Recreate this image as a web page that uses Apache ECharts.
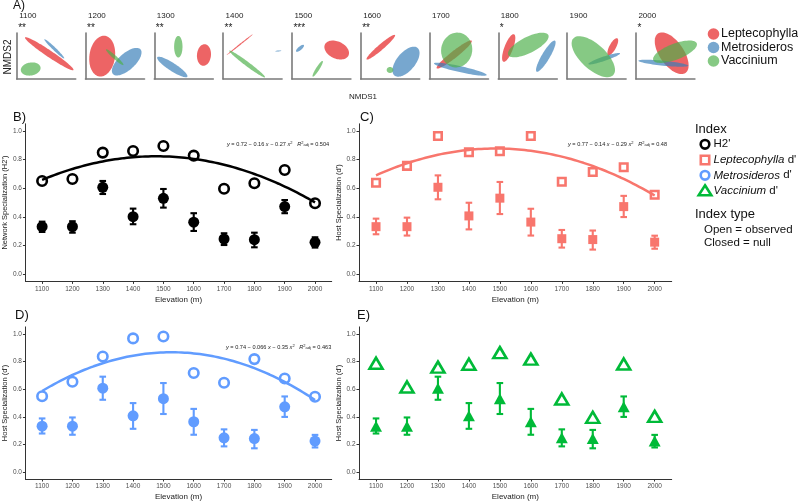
<!DOCTYPE html>
<html><head><meta charset="utf-8">
<script src="https://cdn.jsdelivr.net/npm/echarts@6/dist/echarts.min.js"></script>
<style>html,body{margin:0;padding:0;background:#fff}#c{width:798px;height:502px}</style>
</head><body><div id="c"></div><script>
// ---------- data ----------
const elevations = [1100,1200,1300,1400,1500,1600,1700,1800,1900,2000];
const xTicks = [1100,1200,1300,1400,1500,1600,1700,1800,1900,2000];
const yTicks = [0,0.2,0.4,0.6,0.8,1.0];
const h2Observed   = [0.651,0.665,0.849,0.860,0.895,0.828,0.597,0.635,0.728,0.495];
const h2NullMean   = [0.332,0.332,0.607,0.402,0.530,0.363,0.246,0.241,0.472,0.223];
const h2NullLow    = [0.295,0.290,0.560,0.349,0.465,0.302,0.204,0.188,0.426,0.186];
const h2NullHigh   = [0.367,0.370,0.651,0.458,0.595,0.426,0.286,0.290,0.518,0.258];
const leptoObserved = [0.639,0.756,0.965,0.851,0.858,0.965,0.646,0.714,0.747,0.555];
const metroObserved = [0.548,0.653,0.836,0.967,0.981,0.717,0.646,0.817,0.677,0.545];
const vaccObserved  = [0.787,0.615,0.759,0.780,0.864,0.817,0.529,0.396,0.782,0.403];
const dNullMean = [0.332,0.332,0.607,0.407,0.531,0.364,0.248,0.242,0.472,0.224];
const dNullLow  = [0.279,0.270,0.523,0.313,0.420,0.270,0.186,0.172,0.399,0.178];
const dNullHigh = [0.388,0.395,0.690,0.499,0.644,0.457,0.309,0.305,0.547,0.269];
const equationsText = [
  ['0.72 − 0.16', '0.27', '0.504'],
  ['0.77 − 0.14', '0.29', '0.48'],
  ['0.74 − 0.066', '0.35', '0.463']
];
// NMDS panel A
const nmdsYears = ['1100','1200','1300','1400','1500','1600','1700','1800','1900','2000'];
const nmdsSig   = ['**','**','**','**','***','**','','*','','*'];
const speciesNames = ['Leptecophylla','Metrosideros','Vaccinium'];
// ellipse rows: [centre x, centre y, semi-major, semi-minor, angle deg]
const ellLepto = [
  [0.707,0.550,0.635,0.072,-34],
  [0.363,0.496,0.446,0.278,82],
  [1.080,0.522,0.235,0.152,85],
  [0.361,0.746,0.361,0.013,38.5],
  [0.974,0.630,0.283,0.185,-25],
  [0.437,0.691,0.407,0.061,40.6],
  [0.537,0.533,0.485,0.076,38.3],
  [0.226,0.674,0.320,0.093,69],
  [0.993,0.702,0.207,0.072,61.6],
  [0.778,0.559,0.522,0.261,-55]
];
const ellMetro = [
  [0.817,0.657,0.300,0.033,-44],
  [0.896,0.376,0.402,0.180,42],
  [0.391,0.261,0.389,0.087,-33],
  [1.200,0.609,0.065,0.011,5],
  [0.176,0.667,0.109,0.039,40],
  [0.985,0.376,0.391,0.200,50],
  [0.670,0.213,0.587,0.065,-12.5],
  [1.033,0.496,0.391,0.087,59.4],
  [0.807,0.441,0.363,0.048,18.7],
  [0.596,0.343,0.543,0.054,-5.7]
];
const ellVacc = [
  [0.304,0.217,0.217,0.141,10],
  [0.635,0.474,0.254,0.039,-42],
  [0.522,0.702,0.235,0.091,90],
  [0.524,0.326,0.485,0.048,-36.7],
  [0.561,0.222,0.202,0.037,57.5],
  [0.637,0.196,0.072,0.065,0],
  [0.591,0.630,0.380,0.337,80],
  [0.652,0.739,0.487,0.174,26.6],
  [0.570,0.485,0.589,0.272,-42.5],
  [0.850,0.593,0.507,0.174,21]
];

// ---------- styles / layout ----------
const FONT = '"Liberation Sans", Arial, sans-serif';
const C_H2 = '#000000', C_LEP = '#F8766D', C_MET = '#619CFF', C_VAC = '#00BA38';
const ellColors = ['rgba(228,26,28,0.68)','rgba(55,126,184,0.68)','rgba(77,175,74,0.68)'];
const nmdsLeft0 = 16.7, nmdsStep = 68.8, nmdsTop = 33, nmdsW = 59, nmdsH = 46;
const panels = [
  {left:20.7, top:123.8, width:311, height:157.6},
  {left:359, top:123.8, width:312.7, height:157.6},
  {left:20.7, top:326.9, width:311, height:156.5},
  {left:359, top:326.9, width:312.7, height:156.5}
];

function quadFit(xs, ys){
  const n = xs.length, mx = xs.reduce((a,b)=>a+b,0)/n;
  const t = xs.map(x => (x-mx)/100);
  let S=[0,0,0,0,0], T=[0,0,0];
  for(let i=0;i<n;i++){
    for(let k=0;k<5;k++) S[k]+=Math.pow(t[i],k);
    for(let k=0;k<3;k++) T[k]+=Math.pow(t[i],k)*ys[i];
  }
  const M=[[S[0],S[1],S[2],T[0]],[S[1],S[2],S[3],T[1]],[S[2],S[3],S[4],T[2]]];
  for(let i=0;i<3;i++){
    for(let j=i+1;j<3;j++){const f=M[j][i]/M[i][i];for(let k=i;k<4;k++)M[j][k]-=f*M[i][k];}
  }
  const c=[0,0,0];
  for(let i=2;i>=0;i--){let s=M[i][3];for(let k=i+1;k<3;k++)s-=M[i][k]*c[k];c[i]=s/M[i][i];}
  return x => { const u=(x-mx)/100; return c[0]+c[1]*u+c[2]*u*u; };
}
function fitLine(ys){
  const f = quadFit(elevations, ys), out=[];
  for(let x=elevations[0]; x<=elevations[elevations.length-1]; x+=10) out.push([x, f(x)]);
  return out;
}

const grid=[], xAxis=[], yAxis=[], series=[], graphic=[];
// NMDS small grids
for(let i=0;i<10;i++){
  const L = nmdsLeft0 + i*nmdsStep;
  grid.push({left:L, top:nmdsTop, width:nmdsW, height:nmdsH});
  const ax = {lineStyle:{color:'#7a7a7a', width:1.6}, onZero:false};
  xAxis.push({gridIndex:i, type:'value', min:0, max:nmdsW/nmdsH, axisLine:ax, axisTick:{show:false}, axisLabel:{show:false}, splitLine:{show:false}});
  yAxis.push({gridIndex:i, type:'value', min:0, max:1, axisLine:ax, axisTick:{show:false}, axisLabel:{show:false}, splitLine:{show:false}});
  const data = [ellLepto[i].concat(0), ellMetro[i].concat(1), ellVacc[i].concat(2)];
  series.push({type:'custom', xAxisIndex:i, yAxisIndex:i, data, encode:{x:0,y:1}, silent:true,
    renderItem:(params, api)=>{
      const c = api.coord([api.value(0), api.value(1)]);
      const s = api.size([1,1]);
      const a = api.value(2)*s[0], b = api.value(3)*s[1], th = api.value(4)*Math.PI/180;
      const pts=[];
      for(let k=0;k<72;k++){const tt=2*Math.PI*k/72, ex=a*Math.cos(tt), ey=b*Math.sin(tt);
        pts.push([c[0]+ex*Math.cos(th)-ey*Math.sin(th), c[1]-(ex*Math.sin(th)+ey*Math.cos(th))]);}
      return {type:'polygon', shape:{points:pts}, style:{fill:ellColors[api.value(5)]}};
    }});
  graphic.push({type:'text', left:L+2.5, top:12, style:{text:nmdsYears[i], font:'8px '+FONT, fill:'#222'}});
  if(nmdsSig[i]) graphic.push({type:'text', left:L+1.5, top:23.5, style:{text:nmdsSig[i], font:'10px '+FONT, fill:'#222'}});
}

// main panels
const panelDefs = [
  {obs:h2Observed, mean:h2NullMean, low:h2NullLow, high:h2NullHigh, color:C_H2, sym:'circle', size:11, osym:'circle', osize:9.5, fit:true, yname:"Network Specialization (H2')"},
  {obs:leptoObserved, mean:dNullMean, low:dNullLow, high:dNullHigh, color:C_LEP, sym:'rect', size:9, osym:'rect', osize:7.5, fit:true, yname:"Host Specialization (d')"},
  {obs:metroObserved, mean:dNullMean, low:dNullLow, high:dNullHigh, color:C_MET, sym:'circle', size:11, osym:'circle', osize:9.5, fit:true, yname:"Host Specialization (d')"},
  {obs:vaccObserved, mean:dNullMean, low:dNullLow, high:dNullHigh, color:C_VAC, sym:'triangle', size:[12,11], osym:'triangle', osize:[13,11], fit:false, yname:"Host Specialization (d')"}
];
panelDefs.forEach((p, j)=>{
  const gi = 10 + j;
  grid.push(panels[j]);
  xAxis.push({gridIndex:gi, type:'value', min:1045, max:2055, name:'Elevation (m)', nameLocation:'middle', nameGap:14,
    nameTextStyle:{fontFamily:FONT, fontSize:8, color:'#1a1a1a'},
    axisLine:{onZero:false, lineStyle:{color:'#333', width:1}},
    axisTick:{customValues:xTicks, length:2.5, lineStyle:{color:'#333'}},
    axisLabel:{customValues:xTicks, formatter:v=>String(v), fontFamily:FONT, fontSize:6.5, color:'#4d4d4d', margin:4},
    splitLine:{show:false}});
  yAxis.push({gridIndex:gi, type:'value', min:-0.05, max:1.05, name:p.yname, nameLocation:'middle', nameGap:16, nameRotate:90,
    nameTextStyle:{fontFamily:FONT, fontSize:7.5, color:'#1a1a1a'},
    axisLine:{onZero:false, lineStyle:{color:'#333', width:1}},
    axisTick:{customValues:yTicks, length:2.5, lineStyle:{color:'#333'}},
    axisLabel:{customValues:yTicks, formatter:v=>v.toFixed(1), fontFamily:FONT, fontSize:6.5, color:'#4d4d4d', margin:3.5},
    splitLine:{show:false}});
  // error bars
  series.push({type:'custom', xAxisIndex:gi, yAxisIndex:gi, encode:{x:0, y:[1,2]}, silent:true, z:3,
    data: elevations.map((e,i)=>[e, p.low[i], p.high[i]]),
    renderItem:(params, api)=>{
      const x=api.value(0), a=api.coord([x, api.value(2)]), b=api.coord([x, api.value(1)]), w=3.3;
      const st={stroke:p.color, lineWidth:2.1};
      return {type:'group', children:[
        {type:'line', shape:{x1:a[0],y1:a[1],x2:b[0],y2:b[1]}, style:st},
        {type:'line', shape:{x1:a[0]-w,y1:a[1],x2:a[0]+w,y2:a[1]}, style:st},
        {type:'line', shape:{x1:b[0]-w,y1:b[1],x2:b[0]+w,y2:b[1]}, style:st}]};
    }});
  // null means
  series.push({type:'scatter', xAxisIndex:gi, yAxisIndex:gi, symbol:p.sym, symbolSize:p.size, z:4, silent:true,
    itemStyle:{color:p.color, opacity:1}, data: elevations.map((e,i)=>[e, p.mean[i]])});
  // observed
  series.push({type:'scatter', xAxisIndex:gi, yAxisIndex:gi, symbol:p.osym, symbolSize:p.osize, z:5, silent:true,
    itemStyle:{color:'rgba(255,255,255,0)', borderColor:p.color, borderWidth:2.6, opacity:1},
    data: elevations.map((e,i)=>[e, p.obs[i]])});
  if(p.fit){
    series.push({type:'line', xAxisIndex:gi, yAxisIndex:gi, showSymbol:false, smooth:false, z:6, silent:true,
      lineStyle:{color:p.color, width:2.5}, data: fitLine(p.obs)});
  }
});

// equations
const eqPos = [[227,145],[568,145],[226,348]];
equationsText.forEach((e,k)=>{
  graphic.push({type:'text', left:eqPos[k][0], top:eqPos[k][1]-4, style:{
    text:'{i|y} = '+e[0]+' {i|x} − '+e[1]+' {i|x}{s|2}   {i|R}{s|2}{b|adj} = '+e[2],
    font:'5.6px '+FONT, fill:'#222',
    rich:{i:{fontStyle:'italic', fontSize:5.6, fontFamily:FONT, fill:'#222'},
          s:{fontSize:4, fontFamily:FONT, verticalAlign:'top', fill:'#222'},
          b:{fontSize:4, fontFamily:FONT, verticalAlign:'bottom', fill:'#222'}}}});
});

// panel letters & labels
const lettersPos = [['A)',13,0,12],['B)',13,111,13],['C)',360,111,13],['D)',15,309,13],['E)',357,309,13]];
lettersPos.forEach(l=>graphic.push({type:'text', left:l[1], top:l[2], style:{text:l[0], font:l[3]+'px '+FONT, fill:'#111'}}));
graphic.push({type:'text', x:8, y:57, rotation:Math.PI/2, style:{text:'NMDS2', font:'10px '+FONT, fill:'#222', align:'center', verticalAlign:'middle'}});
graphic.push({type:'text', x:363, y:97, style:{text:'NMDS1', font:'8px '+FONT, fill:'#222', align:'center', verticalAlign:'middle'}});

// A legend
speciesNames.forEach((s,k)=>{
  const y = 34 + k*13.5;
  graphic.push({type:'circle', shape:{cx:713.5, cy:y, r:5.8}, style:{fill:ellColors[k]}});
  graphic.push({type:'text', x:721, y:y, style:{text:s, font:'12.5px '+FONT, fill:'#111', verticalAlign:'middle'}});
});

// Index legend
graphic.push({type:'text', x:695, y:129, style:{text:'Index', font:'13px '+FONT, fill:'#111', verticalAlign:'middle'}});
const mx = 705;
graphic.push({type:'circle', shape:{cx:mx, cy:144.3, r:4.3}, style:{fill:'none', stroke:C_H2, lineWidth:2.6}});
graphic.push({type:'rect', shape:{x:mx-4.2, y:160-4.2, width:8.4, height:8.4}, style:{fill:'none', stroke:C_LEP, lineWidth:2.6}});
graphic.push({type:'circle', shape:{cx:mx, cy:175.3, r:4.3}, style:{fill:'none', stroke:C_MET, lineWidth:2.6}});
graphic.push({type:'polygon', shape:{points:[[mx,185.3],[mx+6.3,195.2],[mx-6.3,195.2]]}, style:{fill:'none', stroke:C_VAC, lineWidth:2.6}});
const legRows = [["H2'",144.3],["{i|Leptecophylla} d'",160],["{i|Metrosideros} d'",175.3],["{i|Vaccinium} d'",190.5]];
legRows.forEach(r=>graphic.push({type:'text', x:713.5, y:r[1], style:{text:r[0], font:'11.5px '+FONT, fill:'#111', verticalAlign:'middle',
  rich:{i:{fontStyle:'italic', fontSize:11.5, fontFamily:FONT, fill:'#111'}}}}));
graphic.push({type:'text', x:695, y:214, style:{text:'Index type', font:'13px '+FONT, fill:'#111', verticalAlign:'middle'}});
graphic.push({type:'text', x:704, y:229.5, style:{text:'Open = observed', font:'11.5px '+FONT, fill:'#111', verticalAlign:'middle'}});
graphic.push({type:'text', x:704, y:242.5, style:{text:'Closed = null', font:'11.5px '+FONT, fill:'#111', verticalAlign:'middle'}});

const chart = echarts.init(document.getElementById('c'), null, {renderer:'canvas'});
chart.setOption({animation:false, backgroundColor:'#fff', grid, xAxis, yAxis, series, graphic});
</script></body></html>
